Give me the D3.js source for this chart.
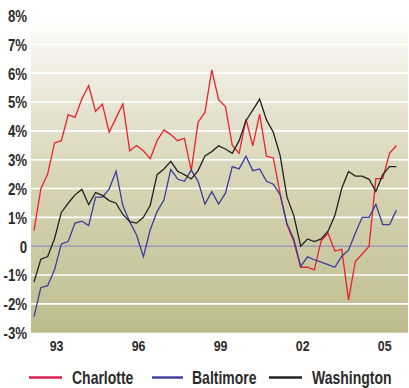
<!DOCTYPE html>
<html>
<head>
<meta charset="utf-8">
<script src="https://cdn.jsdelivr.net/npm/d3@7"></script>
<style>
  html, body { margin: 0; padding: 0; background: #ffffff; }
  svg { display: block; }
  text { font-family: "Liberation Sans", Arial, sans-serif; font-weight: bold; fill: #2b2b2b; }
</style>
</head>
<body>
<svg id="chart" width="409" height="388"></svg>
<script>
// ---- data (quarterly, 1992Q2 .. 2005Q3) ----
const startYear = 1992, startQuarter = 2, nQuarters = 54;
const periods = [];
for (let k = 0; k < nQuarters; k++) {
  const q = startQuarter - 1 + k;
  periods.push({ year: startYear + Math.floor(q / 4), quarter: (q % 4) + 1 });
}
const charlotte = [0.54, 1.99, 2.5, 3.58, 3.66, 4.56, 4.47, 5.1, 5.57, 4.67, 4.93, 3.95, 4.45, 4.93,
  3.31, 3.49, 3.31, 3.03, 3.66, 4.03, 3.87, 3.66, 3.74, 2.62, 4.3, 4.64, 6.11, 5.08, 4.84, 3.49,
  3.22, 4.41, 3.48, 4.58, 3.12, 3.06, 1.81, 0.74, 0.16, -0.73, -0.73, -0.82, 0.19, 0.45, -0.17,
  -0.11, -1.86, -0.53, -0.27, -0.01, 2.34, 2.34, 3.22, 3.49];
const baltimore = [-2.44, -1.44, -1.37, -0.82, 0.08, 0.16, 0.8, 0.87, 0.72, 1.7, 1.7, 1.99, 2.6, 1.4,
  0.85, 0.39, -0.36, 0.57, 1.2, 1.6, 2.66, 2.33, 2.25, 2.64, 2.25, 1.46, 1.89, 1.46, 1.84, 2.76,
  2.68, 3.12, 2.62, 2.68, 2.25, 2.15, 1.78, 0.78, 0.24, -0.7, -0.37, -0.47, -0.55, -0.64, -0.73,
  -0.35, -0.14, 0.46, 1.0, 1.0, 1.45, 0.75, 0.75, 1.25];
const washington = [-1.24, -0.45, -0.36, 0.26, 1.17, 1.49, 1.78, 1.97, 1.44, 1.86, 1.76, 1.58, 1.49, 1.1,
  0.85, 0.8, 1.0, 1.42, 2.48, 2.68, 2.94, 2.6, 2.48, 2.33, 2.62, 3.13, 3.28, 3.48, 3.37, 3.22,
  3.66, 4.35, 4.72, 5.1, 4.38, 3.95, 3.14, 1.7, 1.06, 0.0, 0.25, 0.16, 0.25, 0.52, 1.06,
  2.0, 2.59, 2.43, 2.43, 2.32, 1.9, 2.48, 2.76, 2.76];
const yTicks = [-3, -2, -1, 0, 1, 2, 3, 4, 5, 6, 7, 8];
const xTicks = [1993, 1996, 1999, 2002, 2005];
const seriesNames = ["Charlotte", "Baltimore", "Washington"];
const seriesColors = ["#e8222e", "#3a3d9c", "#222222"];
const seriesValues = [charlotte, baltimore, washington];

// ---- layout ----
const svg = d3.select("#chart");
const plot = { left: 31, right: 408, top: 18, bottom: 332.7 };
const narrow = "scale(0.8,1)";

const x = d3.scaleLinear().domain([1992.25, 2005.5]).range([34, 396.4]);
const y = d3.scaleLinear().domain([-3, 8]).range([332.7, 15.5]);
const tx = p => p.year + (p.quarter - 1) / 4;

// background gradient
const defs = svg.append("defs");
const grad = defs.append("linearGradient").attr("id", "bg")
  .attr("x1", 0).attr("y1", 0).attr("x2", 0).attr("y2", 1);
[[0, "#ffffff"], [0.08, "#f6f5ee"], [0.3, "#e5e3d0"], [0.55, "#d5d3b1"], [0.8, "#c9c79f"], [1, "#bdbb8b"]]
  .forEach(([o, c]) => grad.append("stop").attr("offset", o).attr("stop-color", c));

svg.append("rect")
  .attr("x", plot.left).attr("y", plot.top)
  .attr("width", plot.right - plot.left).attr("height", plot.bottom - plot.top)
  .attr("fill", "url(#bg)");

// gridlines
svg.append("g").selectAll("line")
  .data(yTicks.filter(v => v !== 0 && v > -3 && v < 8))
  .join("line")
  .attr("x1", plot.left).attr("x2", plot.right)
  .attr("y1", d => y(d)).attr("y2", d => y(d))
  .attr("stroke", "#ffffff").attr("stroke-width", 1.6);

// zero line
svg.append("line")
  .attr("x1", plot.left).attr("x2", plot.right)
  .attr("y1", y(0)).attr("y2", y(0))
  .attr("stroke", "#9c9cb8").attr("stroke-width", 1.4);

// y axis labels
const yAxis = d3.axisLeft(y).tickValues(yTicks).tickSize(0).tickPadding(0)
  .tickFormat(d => d === 0 ? "0" : d + "%");
const gy = svg.append("g").attr("transform", "translate(27,0)").call(yAxis);
gy.select(".domain").remove();
gy.selectAll("text")
  .attr("x", 0)
  .style("font-size", "16.5px")
  .style("font-family", "'Liberation Sans', Arial, sans-serif")
  .style("font-weight", "bold").attr("fill", "#2b2b2b").attr("dy", "0.36em")
  .attr("transform", narrow);

// x axis labels
const xAxis = d3.axisBottom(x).tickValues(xTicks).tickSize(0).tickPadding(0)
  .tickFormat(d => String(d).slice(2));
const gx = svg.append("g").attr("transform", "translate(1.5,340)").call(xAxis);
gx.select(".domain").remove();
gx.selectAll("text")
  .attr("y", 0)
  .style("font-size", "15.5px")
  .style("font-family", "'Liberation Sans', Arial, sans-serif")
  .style("font-weight", "bold").attr("fill", "#2b2b2b").attr("dy", "0.71em")
  .attr("transform", narrow);

// lines
const line = d3.line().x((d, i) => x(tx(periods[i]))).y(d => y(d));
seriesValues.forEach((vals, k) => {
  svg.append("path").datum(vals)
    .attr("fill", "none")
    .attr("stroke", seriesColors[k])
    .attr("stroke-width", 1.3)
    .attr("stroke-linejoin", "miter")
    .attr("d", line);
});

// legend
const legendItems = [
  { x1: 29, x2: 62, tx: 72 },
  { x1: 152, x2: 183, tx: 192 },
  { x1: 269, x2: 302, tx: 312 }
];
const lg = svg.append("g");
seriesNames.forEach((name, k) => {
  const it = legendItems[k];
  lg.append("line")
    .attr("x1", it.x1).attr("x2", it.x2).attr("y1", 377.5).attr("y2", 377.5)
    .attr("stroke", k === 0 ? "#dc2150" : seriesColors[k]).attr("stroke-width", 2.4);
  lg.append("g").attr("transform", `translate(${it.tx},384)`)
    .append("text")
    .attr("x", 0).attr("y", 0)
    .attr("transform", narrow)
    .style("font-size", "17.5px")
    .text(name);
});
</script>
</body>
</html>
